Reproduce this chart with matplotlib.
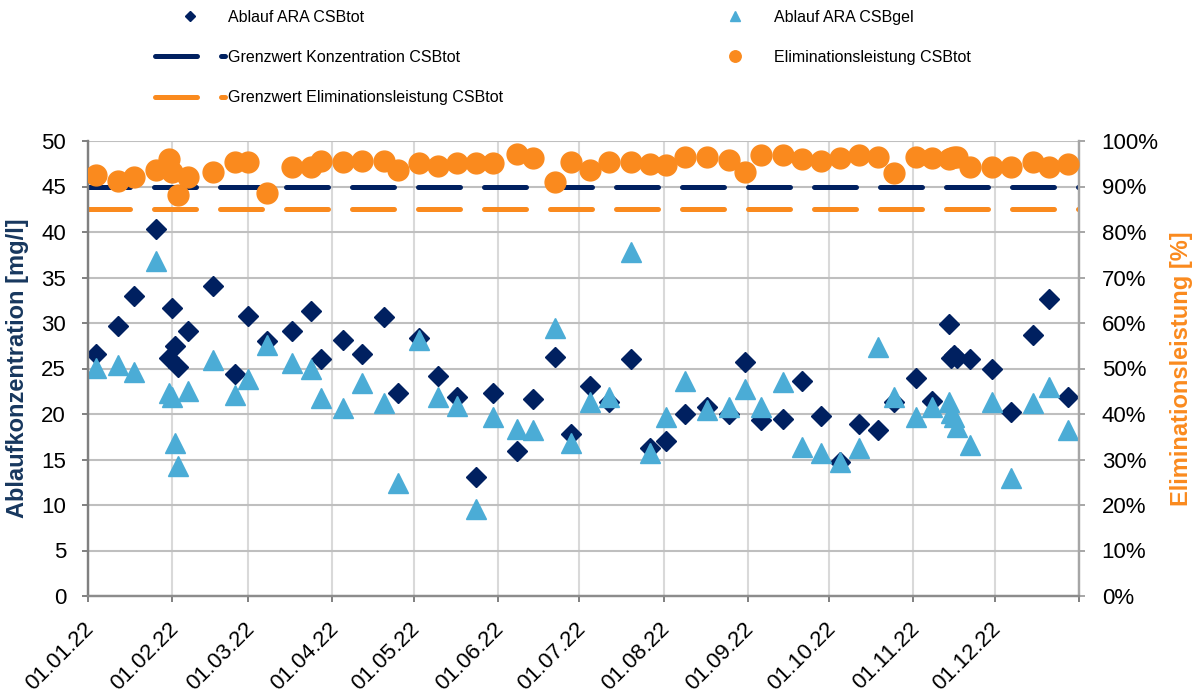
import numpy as np
import pandas as pd
import matplotlib
matplotlib.use('Agg')
import matplotlib.pyplot as plt
from matplotlib.ticker import FuncFormatter
import matplotlib.transforms as mtransforms

plt.rcParams['font.family'] = ['Liberation Sans', 'DejaVu Sans']

# sampling dates (2022)
dates = ['01-04', '01-12', '01-18', '01-26', '01-31', '02-01', '02-02', '02-03',
         '02-07', '02-16', '02-24', '03-01', '03-08', '03-17', '03-24', '03-28',
         '04-05', '04-12', '04-20', '04-25', '05-03', '05-10', '05-17', '05-24',
         '05-30', '06-08', '06-14', '06-22', '06-28', '07-05', '07-12', '07-20',
         '07-27', '08-02', '08-09', '08-17', '08-25', '08-31', '09-06', '09-14',
         '09-21', '09-28', '10-05', '10-12', '10-19', '10-25', '11-02', '11-08',
         '11-14', '11-15', '11-16', '11-17', '11-22', '11-30', '12-07', '12-15',
         '12-21', '12-28']

# Ablauf ARA CSBtot [mg/l]
csb_tot = [26.6, 29.7, 33.0, 40.3, 26.2, 31.6, 27.5, 25.2,
           29.1, 34.1, 24.4, 30.8, 28.0, 29.1, 31.3, 26.0,
           28.1, 26.6, 30.7, 22.3, 28.4, 24.2, 21.9, 13.1,
           22.3, 15.9, 21.6, 26.3, 17.8, 23.1, 21.3, 26.0,
           16.3, 17.0, 20.0, 20.8, 20.0, 25.7, 19.3, 19.5,
           23.6, 19.8, 14.7, 18.9, 18.2, 21.3, 24.0, 21.4,
           29.9, 26.2, 26.5, 26.2, 26.0, 24.9, 20.2, 28.7,
           32.6, 21.9]

# Ablauf ARA CSBgel [mg/l]
csb_gel = [25.1, 25.4, 24.6, 36.8, 22.3, 21.9, 16.8, 14.3,
           22.5, 25.9, 22.1, 23.8, 27.6, 25.6, 25.0, 21.8,
           20.7, 23.4, 21.2, 12.4, 28.1, 21.9, 20.9, 9.6,
           19.7, 18.3, 18.2, 29.4, 16.8, 21.3, 21.9, 37.8,
           15.7, 19.7, 23.6, 20.4, 20.8, 22.8, 20.8, 23.5,
           16.4, 15.7, 14.7, 16.3, 27.4, 21.9, 19.7, 20.8,
           21.3, 20.1, 19.7, 18.6, 16.6, 21.3, 13.0, 21.2,
           23.0, 18.2]

# Eliminationsleistung CSBtot [%]
elim = [92.5, 91.2, 92.1, 93.6, 96.0, 93.2, np.nan, 88.1,
        92.1, 93.2, 95.4, 95.4, 88.6, 94.3, 94.3, 95.6,
        95.4, 95.6, 95.6, 93.6, 95.2, 94.5, 95.2, 95.2,
        95.2, 97.1, 96.3, 91.0, 95.4, 93.6, 95.4, 95.4,
        94.9, 94.7, 96.5, 96.5, 95.8, 93.2, 96.9, 96.9,
        96.0, 95.6, 96.3, 96.9, 96.5, 93.0, 96.5, 96.3,
        96.0, 96.3, 96.4, 96.5, 94.3, 94.3, 94.3, 95.4,
        94.3, 94.9]

grenz_konz = 45    # mg/l
grenz_elim = 85    # %

x = pd.to_datetime(['2022-' + d for d in dates])

navy = '#002060'
lightblue = '#4BACD6'
orange = '#FA8A1E'

fig = plt.figure(figsize=(11.96, 6.95), dpi=100)
ax = fig.add_axes([88/1196, 1 - 596/695, 991/1196, 455/695])
ax2 = ax.twinx()

ax.set_zorder(1)
ax2.set_zorder(2)
ax2.patch.set_visible(False)

h_tot, = ax.plot(x, csb_tot, 'D', color=navy, markersize=10, label='Ablauf ARA CSBtot', zorder=3)
h_gel, = ax.plot(x, csb_gel, '^', color=lightblue, markersize=14, label='Ablauf ARA CSBgel', zorder=4)
h_gk = ax.axhline(grenz_konz, color=navy, lw=3.6, dashes=(8.4, 4.8),
                  dash_capstyle='round', label='Grenzwert Konzentration CSBtot', zorder=2)
h_ge = ax2.axhline(grenz_elim, color=orange, lw=3.6, dashes=(8.4, 4.8),
                   dash_capstyle='round', label='Grenzwert Eliminationsleistung CSBtot', zorder=2)
h_el, = ax2.plot(x, elim, 'o', color=orange, markersize=15, label='Eliminationsleistung CSBtot', zorder=3)

# axes ranges
ax.set_xlim(pd.Timestamp('2022-01-01'), pd.Timestamp('2023-01-01'))
ax.set_ylim(0, 50)
ax.set_yticks(np.arange(0, 51, 5))
ax2.set_ylim(0, 100)
ax2.set_yticks(np.arange(0, 101, 10))
ax2.yaxis.set_major_formatter(FuncFormatter(lambda v, p: f'{v:.0f}%'))

# month ticks; labels drawn as rotated texts below the axis
month_ticks = pd.date_range('2022-01-01', '2023-01-01', freq='MS')
ax.set_xticks(month_ticks)
ax.set_xticklabels([])
offset = mtransforms.ScaledTranslation(3/100, -30/100, fig.dpi_scale_trans)
for d in month_ticks[:-1]:
    ax.text(d, 0, d.strftime('%d.%m.%y'), transform=ax.get_xaxis_transform() + offset,
            rotation=45, ha='right', va='center', rotation_mode='anchor', fontsize=16)

# grid & spines
ax.grid(axis='y', color='#BFBFBF', lw=1.5)
ax.grid(axis='x', color='#D9D9D9', lw=1.5)
ax.set_axisbelow(True)
for a in (ax, ax2):
    a.spines['top'].set_visible(False)
    a.spines['left'].set_color('#808080')
    a.spines['right'].set_color('#A6A6A6')
    a.spines['bottom'].set_color('#8C8C8C')
    for s in ('left', 'right', 'bottom'):
        a.spines[s].set_linewidth(1.6)

ax.tick_params(axis='both', labelsize=16, length=4.3, width=1.4, color='#808080', pad=11.5)
ax2.tick_params(axis='y', labelsize=16, length=4.3, width=1.4, color='#A6A6A6', pad=12)

ax.set_ylabel('Ablaufkonzentration [mg/l]', fontsize=17, fontweight='bold', color='#17375E')
ax.yaxis.set_label_coords(-0.0595, 0.5)
ax2.set_ylabel('Eliminationsleistung [%]', fontsize=17, fontweight='bold', color=orange)
ax2.yaxis.set_label_coords(1.092, 0.5)

fig.legend(handles=[h_tot, h_gk, h_ge, h_gel, h_el], ncol=2, frameon=False,
           loc='upper left', bbox_to_anchor=(155/1196, 1 - 10/695),
           fontsize=11.5, handlelength=4.4, handletextpad=0.2, markerscale=0.55,
           columnspacing=12.3, labelspacing=1.57, borderpad=0, borderaxespad=0)

fig.savefig('out.png', dpi=100)
